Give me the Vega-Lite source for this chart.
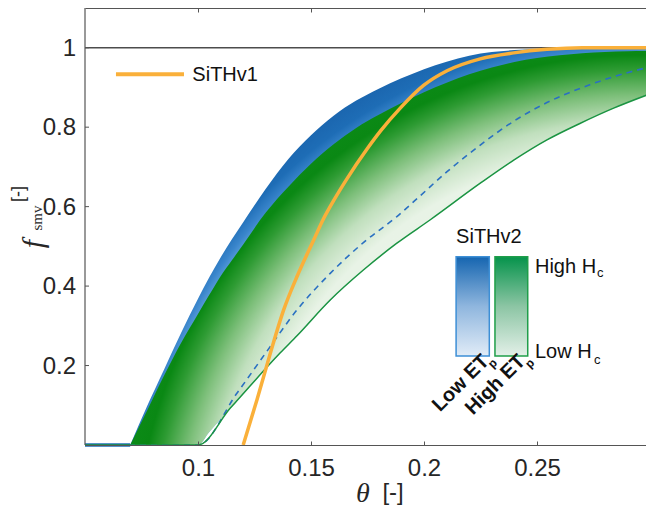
{
  "$schema": "https://vega.github.io/schema/vega-lite/v6.json",
  "width": 561,
  "height": 437,
  "autosize": "none",
  "padding": {"left": 85, "top": 8, "right": 0, "bottom": 64},
  "config": {"view": {"stroke": null}, "font": "Liberation Sans"},
  "datasets": {
    "one": [{}],
    "yticks": [
      {"v": 0.2, "label": "0.2"},
      {"v": 0.4, "label": "0.4"},
      {"v": 0.6, "label": "0.6"},
      {"v": 0.8, "label": "0.8"},
      {"v": 1, "label": "1"}
    ],
    "bands": [
      {"theta": 0.07, "blueTop": 0, "greenTop": 0, "greenLow": 0},
      {"theta": 0.0775, "blueTop": 0.098, "greenTop": 0.087, "greenLow": 0},
      {"theta": 0.085, "blueTop": 0.19, "greenTop": 0.175, "greenLow": 0},
      {"theta": 0.0925, "blueTop": 0.282, "greenTop": 0.257, "greenLow": 0},
      {"theta": 0.1, "blueTop": 0.368, "greenTop": 0.33, "greenLow": 0},
      {"theta": 0.105, "blueTop": 0.422, "greenTop": 0.378, "greenLow": 0.033},
      {"theta": 0.11, "blueTop": 0.472, "greenTop": 0.425, "greenLow": 0.065},
      {"theta": 0.115, "blueTop": 0.518, "greenTop": 0.465, "greenLow": 0.097},
      {"theta": 0.12, "blueTop": 0.561, "greenTop": 0.505, "greenLow": 0.129},
      {"theta": 0.13, "blueTop": 0.645, "greenTop": 0.585, "greenLow": 0.192},
      {"theta": 0.14, "blueTop": 0.72, "greenTop": 0.65, "greenLow": 0.253},
      {"theta": 0.15, "blueTop": 0.78, "greenTop": 0.708, "greenLow": 0.314},
      {"theta": 0.16, "blueTop": 0.829, "greenTop": 0.757, "greenLow": 0.372},
      {"theta": 0.17, "blueTop": 0.867, "greenTop": 0.798, "greenLow": 0.425},
      {"theta": 0.18, "blueTop": 0.897, "greenTop": 0.831, "greenLow": 0.472},
      {"theta": 0.19, "blueTop": 0.923, "greenTop": 0.861, "greenLow": 0.516},
      {"theta": 0.2, "blueTop": 0.946, "greenTop": 0.888, "greenLow": 0.556},
      {"theta": 0.21, "blueTop": 0.965, "greenTop": 0.912, "greenLow": 0.597},
      {"theta": 0.22, "blueTop": 0.98, "greenTop": 0.933, "greenLow": 0.638},
      {"theta": 0.23, "blueTop": 0.989, "greenTop": 0.95, "greenLow": 0.679},
      {"theta": 0.24, "blueTop": 0.994, "greenTop": 0.964, "greenLow": 0.718},
      {"theta": 0.25, "blueTop": 0.997, "greenTop": 0.974, "greenLow": 0.753},
      {"theta": 0.26, "blueTop": 0.998, "greenTop": 0.981, "greenLow": 0.784},
      {"theta": 0.27, "blueTop": 0.999, "greenTop": 0.986, "greenLow": 0.812},
      {"theta": 0.28, "blueTop": 1.0, "greenTop": 0.989, "greenLow": 0.838},
      {"theta": 0.29, "blueTop": 1.0, "greenTop": 0.991, "greenLow": 0.862},
      {"theta": 0.3, "blueTop": 1.0, "greenTop": 0.993, "greenLow": 0.884}
    ],
    "curves": [
      {"series": "edge", "theta": 0.05, "f": 0},
      {"series": "edge", "theta": 0.07, "f": 0},
      {"series": "blueLow", "theta": 0.05, "f": 0},
      {"series": "blueLow", "theta": 0.1, "f": 0},
      {"series": "blueLow", "theta": 0.1173, "f": 0.131},
      {"series": "blueLow", "theta": 0.13, "f": 0.232},
      {"series": "blueLow", "theta": 0.1438, "f": 0.34},
      {"series": "blueLow", "theta": 0.1585, "f": 0.432},
      {"series": "blueLow", "theta": 0.1733, "f": 0.51},
      {"series": "blueLow", "theta": 0.188, "f": 0.575},
      {"series": "blueLow", "theta": 0.1969, "f": 0.62},
      {"series": "blueLow", "theta": 0.2102, "f": 0.688},
      {"series": "blueLow", "theta": 0.2249, "f": 0.755},
      {"series": "blueLow", "theta": 0.2397, "f": 0.815},
      {"series": "blueLow", "theta": 0.2544, "f": 0.862},
      {"series": "blueLow", "theta": 0.2692, "f": 0.898},
      {"series": "blueLow", "theta": 0.2839, "f": 0.927},
      {"series": "blueLow", "theta": 0.3, "f": 0.952},
      {"series": "greenLow", "theta": 0.05, "f": 0},
      {"series": "greenLow", "theta": 0.1, "f": 0},
      {"series": "greenLow", "theta": 0.1143, "f": 0.093},
      {"series": "greenLow", "theta": 0.1173, "f": 0.112},
      {"series": "greenLow", "theta": 0.1364, "f": 0.232},
      {"series": "greenLow", "theta": 0.1438, "f": 0.275},
      {"series": "greenLow", "theta": 0.1585, "f": 0.365},
      {"series": "greenLow", "theta": 0.1733, "f": 0.441},
      {"series": "greenLow", "theta": 0.188, "f": 0.508},
      {"series": "greenLow", "theta": 0.2028, "f": 0.567},
      {"series": "greenLow", "theta": 0.2249, "f": 0.659},
      {"series": "greenLow", "theta": 0.2397, "f": 0.717},
      {"series": "greenLow", "theta": 0.2544, "f": 0.768},
      {"series": "greenLow", "theta": 0.2692, "f": 0.81},
      {"series": "greenLow", "theta": 0.2839, "f": 0.848},
      {"series": "greenLow", "theta": 0.3, "f": 0.884},
      {"series": "SiTHv1", "theta": 0.12, "f": 0},
      {"series": "SiTHv1", "theta": 0.1261, "f": 0.114},
      {"series": "SiTHv1", "theta": 0.132, "f": 0.231},
      {"series": "SiTHv1", "theta": 0.1379, "f": 0.34},
      {"series": "SiTHv1", "theta": 0.1438, "f": 0.424},
      {"series": "SiTHv1", "theta": 0.1512, "f": 0.516},
      {"series": "SiTHv1", "theta": 0.1556, "f": 0.57},
      {"series": "SiTHv1", "theta": 0.16, "f": 0.615},
      {"series": "SiTHv1", "theta": 0.1659, "f": 0.67},
      {"series": "SiTHv1", "theta": 0.1748, "f": 0.745},
      {"series": "SiTHv1", "theta": 0.1807, "f": 0.79},
      {"series": "SiTHv1", "theta": 0.1895, "f": 0.848},
      {"series": "SiTHv1", "theta": 0.1998, "f": 0.905},
      {"series": "SiTHv1", "theta": 0.2102, "f": 0.942},
      {"series": "SiTHv1", "theta": 0.2249, "f": 0.972},
      {"series": "SiTHv1", "theta": 0.2397, "f": 0.987},
      {"series": "SiTHv1", "theta": 0.2544, "f": 0.996},
      {"series": "SiTHv1", "theta": 0.27, "f": 1.0},
      {"series": "SiTHv1", "theta": 0.3, "f": 1.0}
    ]
  },
  "layer": [
    {
      "data": {"name": "bands"},
      "mark": {
        "type": "area",
        "interpolate": "monotone",
        "fill": {
          "gradient": "radial",
          "x1": 0.9808, "y1": 1.1034, "r1": 0,
          "x2": 0.9808, "y2": 1.1034, "r2": 1.0485,
          "stops": [
            {"offset": 0, "color": "#8fc1ea"},
            {"offset": 0.917, "color": "#6aaae0"},
            {"offset": 0.939, "color": "#3a86cc"},
            {"offset": 0.963, "color": "#1e6db6"},
            {"offset": 1, "color": "#1a64ad"}
          ]
        }
      },
      "encoding": {
        "x": {
          "field": "theta", "type": "quantitative",
          "scale": {"domain": [0.05, 0.29823], "nice": false, "zero": false},
          "axis": {
            "orient": "bottom", "values": [0.1, 0.15, 0.2, 0.25], "format": "~g",
            "title": null, "grid": false, "tickSize": -4, "tickColor": "#555555",
            "domainColor": "#555555", "domainWidth": 1.2, "labelPadding": 15,
            "labelFontSize": 24, "labelFont": "Liberation Sans", "labelColor": "#262626",
            "zindex": 1
          }
        },
        "y": {
          "field": "blueTop", "type": "quantitative",
          "scale": {"domain": [0, 1.1], "nice": false, "zero": false},
          "axis": null
        },
        "y2": {"field": "greenLow"}
      }
    },
    {
      "data": {"name": "bands"},
      "mark": {
        "type": "area",
        "interpolate": "monotone",
        "fill": {
          "gradient": "radial",
          "x1": 0.9808, "y1": 1.1007, "r1": 0,
          "x2": 0.9808, "y2": 1.1007, "r2": 1.0196,
          "stops": [
            {"offset": 0, "color": "#eef6ec"},
            {"offset": 0.774, "color": "#e8f3e6"},
            {"offset": 0.83, "color": "#c0dfbd"},
            {"offset": 0.877, "color": "#7dbf7a"},
            {"offset": 0.925, "color": "#2e9b33"},
            {"offset": 0.953, "color": "#0a8814"},
            {"offset": 0.981, "color": "#0b8a16"},
            {"offset": 1, "color": "#1a9026"}
          ]
        }
      },
      "encoding": {
        "x": {
          "field": "theta", "type": "quantitative",
          "axis": {
            "orient": "top", "values": [0.1, 0.15, 0.2, 0.25], "labels": false,
            "title": null, "grid": false, "tickSize": -4, "tickColor": "#555555",
            "domainColor": "#555555", "domainWidth": 1.2
          }
        },
        "y": {"field": "greenTop", "type": "quantitative", "axis": null},
        "y2": {"field": "greenLow"}
      }
    },
    {
      "data": {"name": "curves"},
      "transform": [{"filter": "datum.series === 'edge'"}],
      "mark": {"type": "line", "color": "#1f6fb8", "strokeWidth": 3.5},
      "encoding": {
        "x": {"field": "theta", "type": "quantitative", "axis": null},
        "y": {"field": "f", "type": "quantitative", "axis": null}
      }
    },
    {
      "data": {"name": "curves"},
      "transform": [{"filter": "datum.series === 'blueLow'"}],
      "mark": {"type": "line", "interpolate": "monotone", "color": "#2a70c2", "strokeWidth": 1.6, "strokeDash": [6, 5]},
      "encoding": {
        "x": {"field": "theta", "type": "quantitative", "axis": null},
        "y": {"field": "f", "type": "quantitative", "axis": null}
      }
    },
    {
      "data": {"name": "curves"},
      "transform": [{"filter": "datum.series === 'greenLow'"}],
      "mark": {"type": "line", "interpolate": "monotone", "color": "#1b9442", "strokeWidth": 1.5},
      "encoding": {
        "x": {"field": "theta", "type": "quantitative", "axis": null},
        "y": {"field": "f", "type": "quantitative", "axis": null}
      }
    },
    {
      "data": {"name": "one"},
      "mark": {"type": "rule", "color": "#4d4d4d", "strokeWidth": 1.5},
      "encoding": {"y": {"datum": 1, "type": "quantitative", "axis": null}}
    },
    {
      "data": {"name": "one"},
      "mark": {"type": "rule", "color": "#555555", "strokeWidth": 1.2},
      "encoding": {
        "x": {"datum": 0.05, "type": "quantitative", "axis": null},
        "y": {"datum": 0, "type": "quantitative", "axis": null},
        "y2": {"datum": 1.1}
      }
    },
    {
      "data": {"name": "yticks"},
      "mark": {"type": "rule", "color": "#555555", "strokeWidth": 1},
      "encoding": {
        "x": {"datum": 0.05, "type": "quantitative", "axis": null},
        "x2": {"datum": 0.05177},
        "y": {"field": "v", "type": "quantitative", "axis": null}
      }
    },
    {
      "data": {"name": "yticks"},
      "mark": {"type": "text", "font": "Liberation Sans", "fontSize": 24, "color": "#262626", "align": "right", "baseline": "middle", "dy": 1},
      "encoding": {
        "x": {"datum": 0.04602, "type": "quantitative", "axis": null},
        "y": {"field": "v", "type": "quantitative", "axis": null},
        "text": {"field": "label"}
      }
    },
    {
      "data": {"name": "curves"},
      "transform": [{"filter": "datum.series === 'SiTHv1'"}],
      "mark": {"type": "line", "interpolate": "monotone", "color": "#FAB03A", "strokeWidth": 3.5},
      "encoding": {
        "x": {"field": "theta", "type": "quantitative", "axis": null},
        "y": {"field": "f", "type": "quantitative", "axis": null}
      }
    },
    {
      "data": {"name": "one"},
      "mark": {"type": "rule", "color": "#FAB03A", "strokeWidth": 4},
      "encoding": {
        "x": {"datum": 0.0637, "type": "quantitative", "axis": null},
        "x2": {"datum": 0.0938},
        "y": {"datum": 0.933, "type": "quantitative", "axis": null}
      }
    },
    {
      "data": {"name": "one"},
      "mark": {"type": "text", "text": "SiTHv1", "font": "Liberation Sans", "fontSize": 20, "color": "#111111", "align": "left", "baseline": "alphabetic"},
      "encoding": {
        "x": {"datum": 0.0975, "type": "quantitative", "axis": null},
        "y": {"datum": 0.917, "type": "quantitative", "axis": null}
      }
    },
    {
      "data": {"name": "one"},
      "mark": {"type": "text", "text": "SiTHv2", "font": "Liberation Sans", "fontSize": 20, "color": "#111111", "align": "left", "baseline": "alphabetic"},
      "encoding": {
        "x": {"datum": 0.2142, "type": "quantitative", "axis": null},
        "y": {"datum": 0.509, "type": "quantitative", "axis": null}
      }
    },
    {
      "data": {"name": "one"},
      "mark": {
        "type": "rect", "stroke": "#3d8fd6", "strokeWidth": 1.5,
        "fill": {"gradient": "linear", "x1": 0, "y1": 0, "x2": 0, "y2": 1,
          "stops": [{"offset": 0, "color": "#1565b0"}, {"offset": 0.5, "color": "#8fb6de"}, {"offset": 1, "color": "#e1ecf7"}]}
      },
      "encoding": {
        "x": {"datum": 0.2142, "type": "quantitative", "axis": null},
        "x2": {"datum": 0.2289},
        "y": {"datum": 0.474, "type": "quantitative", "axis": null},
        "y2": {"datum": 0.224}
      }
    },
    {
      "data": {"name": "one"},
      "mark": {
        "type": "rect", "stroke": "#1f9e4a", "strokeWidth": 1.5,
        "fill": {"gradient": "linear", "x1": 0, "y1": 0, "x2": 0, "y2": 1,
          "stops": [{"offset": 0, "color": "#05934b"}, {"offset": 0.5, "color": "#8cc5a4"}, {"offset": 1, "color": "#e3f0e8"}]}
      },
      "encoding": {
        "x": {"datum": 0.2314, "type": "quantitative", "axis": null},
        "x2": {"datum": 0.2459},
        "y": {"datum": 0.474, "type": "quantitative", "axis": null},
        "y2": {"datum": 0.224}
      }
    },
    {
      "data": {"name": "one"},
      "mark": {"type": "text", "text": "High H", "font": "Liberation Sans", "fontSize": 20, "color": "#111111", "align": "left", "baseline": "alphabetic"},
      "encoding": {
        "x": {"datum": 0.2491, "type": "quantitative", "axis": null},
        "y": {"datum": 0.4337, "type": "quantitative", "axis": null}
      }
    },
    {
      "data": {"name": "one"},
      "mark": {"type": "text", "text": "c", "font": "Liberation Sans", "fontSize": 13, "color": "#111111", "align": "left", "baseline": "alphabetic"},
      "encoding": {
        "x": {"datum": 0.2766, "type": "quantitative", "axis": null},
        "y": {"datum": 0.422, "type": "quantitative", "axis": null}
      }
    },
    {
      "data": {"name": "one"},
      "mark": {"type": "text", "text": "Low H", "font": "Liberation Sans", "fontSize": 20, "color": "#111111", "align": "left", "baseline": "alphabetic"},
      "encoding": {
        "x": {"datum": 0.2491, "type": "quantitative", "axis": null},
        "y": {"datum": 0.2182, "type": "quantitative", "axis": null}
      }
    },
    {
      "data": {"name": "one"},
      "mark": {"type": "text", "text": "c", "font": "Liberation Sans", "fontSize": 13, "color": "#111111", "align": "left", "baseline": "alphabetic"},
      "encoding": {
        "x": {"datum": 0.2752, "type": "quantitative", "axis": null},
        "y": {"datum": 0.2039, "type": "quantitative", "axis": null}
      }
    },
    {
      "data": {"name": "one"},
      "mark": {"type": "text", "text": "Low ET", "font": "Liberation Sans", "fontWeight": "bold", "fontSize": 20, "color": "#111111", "align": "right", "baseline": "middle", "angle": -45},
      "encoding": {
        "x": {"datum": 0.2274, "type": "quantitative", "axis": null},
        "y": {"datum": 0.219, "type": "quantitative", "axis": null}
      }
    },
    {
      "data": {"name": "one"},
      "mark": {"type": "text", "text": "p", "font": "Liberation Sans", "fontWeight": "bold", "fontSize": 12, "color": "#111111", "align": "left", "baseline": "middle", "angle": -45},
      "encoding": {
        "x": {"datum": 0.2292, "type": "quantitative", "axis": null},
        "y": {"datum": 0.1988, "type": "quantitative", "axis": null}
      }
    },
    {
      "data": {"name": "one"},
      "mark": {"type": "text", "text": "High ET", "font": "Liberation Sans", "fontWeight": "bold", "fontSize": 20, "color": "#111111", "align": "right", "baseline": "middle", "angle": -45},
      "encoding": {
        "x": {"datum": 0.2434, "type": "quantitative", "axis": null},
        "y": {"datum": 0.219, "type": "quantitative", "axis": null}
      }
    },
    {
      "data": {"name": "one"},
      "mark": {"type": "text", "text": "p", "font": "Liberation Sans", "fontWeight": "bold", "fontSize": 12, "color": "#111111", "align": "left", "baseline": "middle", "angle": -45},
      "encoding": {
        "x": {"datum": 0.2456, "type": "quantitative", "axis": null},
        "y": {"datum": 0.1988, "type": "quantitative", "axis": null}
      }
    },
    {
      "data": {"name": "one"},
      "mark": {"type": "text", "text": "θ", "font": "Liberation Serif", "fontStyle": "italic", "fontSize": 28, "color": "#262626", "align": "center", "baseline": "middle"},
      "encoding": {
        "x": {"datum": 0.173, "type": "quantitative", "axis": null},
        "y": {"datum": -0.1233, "type": "quantitative", "axis": null}
      }
    },
    {
      "data": {"name": "one"},
      "mark": {"type": "text", "text": "[-]", "font": "Liberation Sans", "fontSize": 24, "color": "#262626", "align": "center", "baseline": "middle"},
      "encoding": {
        "x": {"datum": 0.1863, "type": "quantitative", "axis": null},
        "y": {"datum": -0.121, "type": "quantitative", "axis": null}
      }
    },
    {
      "data": {"name": "one"},
      "mark": {"type": "text", "text": "f", "font": "Liberation Serif", "fontStyle": "italic", "fontSize": 30, "color": "#262626", "align": "center", "baseline": "middle", "angle": -90},
      "encoding": {
        "x": {"datum": 0.02743, "type": "quantitative", "axis": null},
        "y": {"datum": 0.5059, "type": "quantitative", "axis": null}
      }
    },
    {
      "data": {"name": "one"},
      "mark": {"type": "text", "text": "smv", "font": "Liberation Serif", "fontSize": 15, "color": "#262626", "align": "center", "baseline": "middle", "angle": -90},
      "encoding": {
        "x": {"datum": 0.02876, "type": "quantitative", "axis": null},
        "y": {"datum": 0.5714, "type": "quantitative", "axis": null}
      }
    },
    {
      "data": {"name": "one"},
      "mark": {"type": "text", "text": "[-]", "font": "Liberation Sans", "fontSize": 18, "color": "#262626", "align": "center", "baseline": "middle", "angle": -90},
      "encoding": {
        "x": {"datum": 0.02058, "type": "quantitative", "axis": null},
        "y": {"datum": 0.6318, "type": "quantitative", "axis": null}
      }
    }
  ]
}
